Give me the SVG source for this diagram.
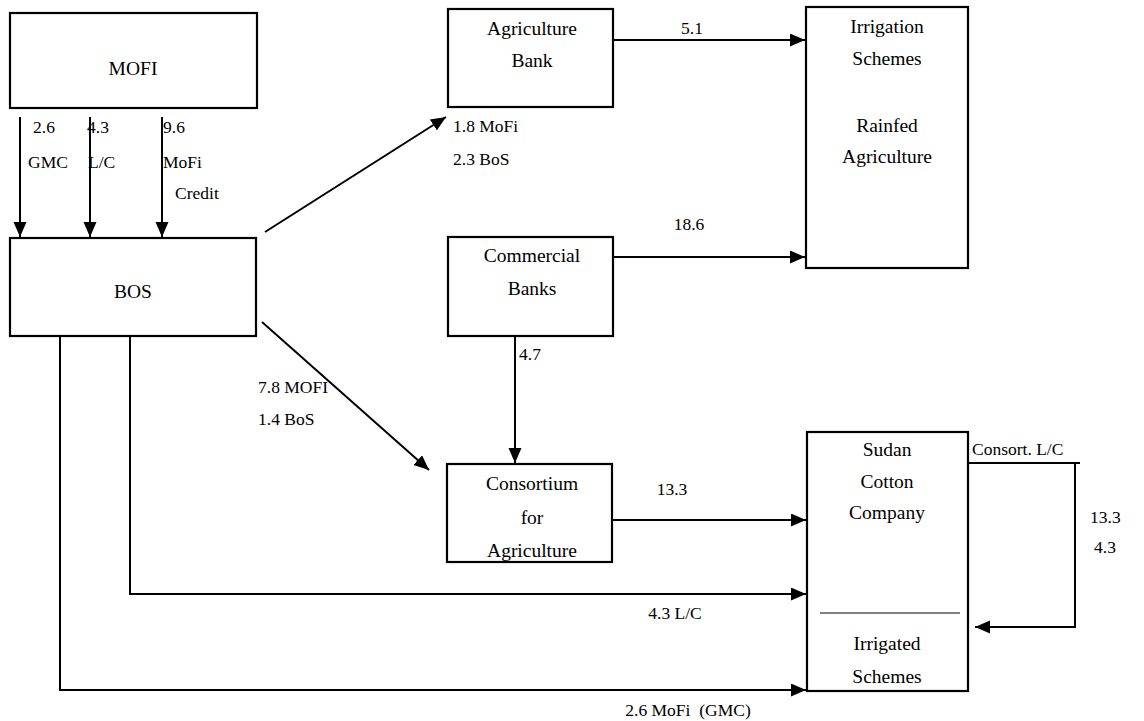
<svg xmlns="http://www.w3.org/2000/svg" width="1144" height="721" viewBox="0 0 1144 721">
<style>
  .box { fill: #fff; stroke: #000; stroke-width: 2.2; }
  .conn { fill: none; stroke: #000; stroke-width: 2; }
  .t { font-family: "Liberation Serif", "Times New Roman", serif; font-size: 19.5px; fill: #000; text-anchor: middle; }
  .l { font-family: "Liberation Serif", "Times New Roman", serif; font-size: 17.5px; fill: #000; }
  .lc { font-family: "Liberation Serif", "Times New Roman", serif; font-size: 17.5px; fill: #000; text-anchor: middle; }
</style>
<defs>
  <marker id="ah" markerUnits="userSpaceOnUse" markerWidth="16" markerHeight="14" refX="15" refY="6.5" orient="auto">
    <path d="M0,0 L15,6.5 L0,13 z" fill="#000"/>
  </marker>
</defs>
<rect width="1144" height="721" fill="#fff"/>

<g id="connectors">
  <path class="conn" d="M20,117 V237" marker-end="url(#ah)"/>
  <path class="conn" d="M90,117 V237" marker-end="url(#ah)"/>
  <path class="conn" d="M162,117 V237" marker-end="url(#ah)"/>
  <path class="conn" d="M265,232 L446,117" marker-end="url(#ah)"/>
  <path class="conn" d="M613,40 H805" marker-end="url(#ah)"/>
  <path class="conn" d="M613,257 H805" marker-end="url(#ah)"/>
  <path class="conn" d="M262,322 L429,470" marker-end="url(#ah)"/>
  <path class="conn" d="M515,336 V463" marker-end="url(#ah)"/>
  <path class="conn" d="M612,520 H806" marker-end="url(#ah)"/>
  <path class="conn" d="M130,336 V594 H806" marker-end="url(#ah)"/>
  <path class="conn" d="M60,336 V690 H806" marker-end="url(#ah)"/>
  <path class="conn" d="M968,463 H1080"/>
  <path class="conn" d="M1075,463 V627 H975" marker-end="url(#ah)"/>
  <text class="l" x="33" y="133">2.6</text>
  <text class="l" x="28" y="168">GMC</text>
  <text class="l" x="87" y="133">4.3</text>
  <text class="l" x="88" y="168">L/C</text>
  <text class="l" x="163" y="133">9.6</text>
  <text class="l" x="163" y="168">MoFi</text>
  <text class="l" x="175" y="199">Credit</text>
  <text class="l" x="453" y="132">1.8 MoFi</text>
  <text class="l" x="453" y="165">2.3 BoS</text>
  <text class="lc" x="692" y="34">5.1</text>
  <text class="lc" x="689" y="230">18.6</text>
  <text class="l" x="258" y="393">7.8 MOFI</text>
  <text class="l" x="258" y="425">1.4 BoS</text>
  <text class="l" x="519" y="360">4.7</text>
  <text class="lc" x="672" y="495">13.3</text>
  <text class="lc" x="675" y="619">4.3 L/C</text>
  <text class="lc" x="688" y="716" xml:space="preserve">2.6 MoFi  (GMC)</text>
  <text class="l" x="972" y="455">Consort. L/C</text>
  <text class="l" x="1090" y="523">13.3</text>
  <text class="l" x="1094" y="553">4.3</text>
</g>

<g id="mofi">
  <rect class="box" x="10" y="13" width="247" height="95"/>
  <text class="t" x="133" y="75">MOFI</text>
</g>
<g id="bos">
  <rect class="box" x="10" y="238" width="246" height="98"/>
  <text class="t" x="133" y="298">BOS</text>
</g>
<g id="agriculture-bank">
  <rect class="box" x="448" y="9" width="165" height="98"/>
  <text class="t" x="532" y="35">Agriculture</text>
  <text class="t" x="532" y="67">Bank</text>
</g>
<g id="commercial-banks">
  <rect class="box" x="448" y="237" width="165" height="99"/>
  <text class="t" x="532" y="262">Commercial</text>
  <text class="t" x="532" y="295">Banks</text>
</g>
<g id="consortium">
  <rect class="box" x="447" y="464" width="165" height="98"/>
  <text class="t" x="532" y="490">Consortium</text>
  <text class="t" x="532" y="524">for</text>
  <text class="t" x="532" y="557">Agriculture</text>
</g>
<g id="irrigation-rainfed">
  <rect class="box" x="806" y="7" width="162" height="261"/>
  <text class="t" x="887" y="33">Irrigation</text>
  <text class="t" x="887" y="65">Schemes</text>
  <text class="t" x="887" y="132">Rainfed</text>
  <text class="t" x="887" y="163">Agriculture</text>
</g>
<g id="sudan-cotton">
  <rect class="box" x="807" y="432" width="161" height="259"/>
  <text class="t" x="887" y="456">Sudan</text>
  <text class="t" x="887" y="488">Cotton</text>
  <text class="t" x="887" y="519">Company</text>
  <line x1="820" y1="613" x2="960" y2="613" stroke="#000" stroke-width="1.2"/>
  <text class="t" x="887" y="650">Irrigated</text>
  <text class="t" x="887" y="683">Schemes</text>
</g>
</svg>
